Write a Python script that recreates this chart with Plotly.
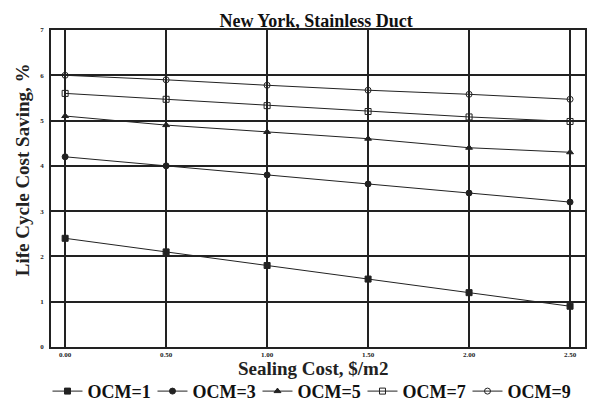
import plotly.graph_objects as go

x_cost = [0.0, 0.5, 1.0, 1.5, 2.0, 2.5]
x_tick_labels = ["0.00", "0.50", "1.00", "1.50", "2.00", "2.50"]
ocm1 = [2.4, 2.1, 1.8, 1.5, 1.2, 0.9]
ocm3 = [4.2, 4.0, 3.8, 3.6, 3.4, 3.2]
ocm5 = [5.1, 4.9, 4.75, 4.6, 4.4, 4.3]
ocm7 = [5.6, 5.47, 5.33, 5.2, 5.08, 4.98]
ocm9 = [6.0, 5.9, 5.78, 5.67, 5.58, 5.47]
series_names = ["OCM=1", "OCM=3", "OCM=5", "OCM=7", "OCM=9"]
symbols = ["square", "circle", "triangle-up", "square-open", "circle-open"]

fig = go.Figure()
for name, ys, sym in zip(series_names, [ocm1, ocm3, ocm5, ocm7, ocm9], symbols):
    fig.add_trace(go.Scatter(
        x=x_cost, y=ys, name=name, mode="lines+markers",
        line=dict(color="#222", width=1),
        marker=dict(symbol=sym, size=6, color="#222", line=dict(color="#222", width=1)),
    ))

serif = "Liberation Serif"
fig.update_layout(
    width=593, height=412,
    margin=dict(l=51, r=8, t=30, b=65, autoexpand=False),
    paper_bgcolor="white", plot_bgcolor="white",
    font=dict(family=serif, color="#222"),
    title=dict(text="<b>New York, Stainless Duct</b>", x=0.533, xanchor="center", y=0.949, yanchor="middle",
               font=dict(size=18, family=serif, color="#111")),
    showlegend=True,
    legend=dict(orientation="h", x=0.485, xanchor="center", yref="container", y=0.05, yanchor="middle",
                font=dict(size=18, family=serif, color="#111", weight="bold"),
                itemwidth=30, entrywidth=60, entrywidthmode="pixels",
                tracegroupgap=0, bgcolor="rgba(0,0,0,0)"),
    xaxis=dict(range=[-0.07, 2.574], tickvals=x_cost, ticktext=x_tick_labels,
               tickfont=dict(size=7, family=serif, weight="bold"), showgrid=True, gridcolor="#222", gridwidth=1.5,
               showline=True, linecolor="#222", linewidth=1.5, mirror=True, zeroline=False),
    yaxis=dict(range=[0, 7], tickvals=[0, 1, 2, 3, 4, 5, 6, 7], tickfont=dict(size=7, family=serif, weight="bold"),
               showgrid=True, gridcolor="#222", gridwidth=1.5, ticklabelstandoff=4,
               showline=True, linecolor="#222", linewidth=1.5, mirror=True, zeroline=False),
    annotations=[
        dict(text="<b>Sealing Cost, $/m2</b>", xref="paper", yref="paper", x=0.49, y=-0.068,
             xanchor="center", yanchor="middle", showarrow=False,
             font=dict(size=19, family=serif, color="#222")),
        dict(text="<b>Life Cycle Cost Saving, %</b>", xref="paper", yref="paper", x=-0.053, y=0.56,
             xanchor="center", yanchor="middle", showarrow=False, textangle=-90,
             font=dict(size=19, family=serif, color="#222")),
    ],
)

fig.write_html("out.html", config={"displayModeBar": False},
               post_script="document.body.style.margin='0';")
